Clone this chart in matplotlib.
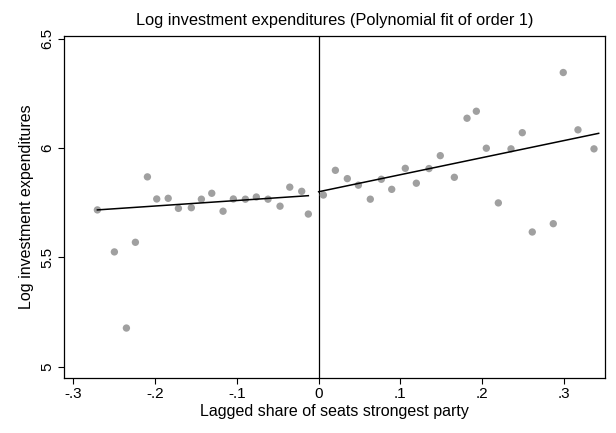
import matplotlib
matplotlib.use("Agg")
import matplotlib.pyplot as plt

plt.rcParams["font.family"] = ["Liberation Sans", "DejaVu Sans"]

# binned means, left of the cutoff
left_x = [-0.2706, -0.2498, -0.2351, -0.2241, -0.2094, -0.198, -0.184, -0.1715,
          -0.1557, -0.1434, -0.1307, -0.1169, -0.1043, -0.0896, -0.0762,
          -0.0619, -0.0472, -0.0353, -0.0207, -0.0126]
left_y = [5.717, 5.525, 5.177, 5.569, 5.868, 5.767, 5.770, 5.724,
          5.727, 5.766, 5.793, 5.711, 5.767, 5.766, 5.776,
          5.766, 5.734, 5.821, 5.802, 5.698]

# binned means, right of the cutoff
right_x = [0.0058, 0.0205, 0.0351, 0.0486, 0.0632, 0.0767, 0.0894, 0.106,
           0.1195, 0.135, 0.1488, 0.166, 0.1815, 0.1929, 0.2051, 0.2198,
           0.2353, 0.2491, 0.2613, 0.287, 0.2992, 0.3172, 0.3368]
right_y = [5.785, 5.898, 5.860, 5.830, 5.766, 5.857, 5.811, 5.907,
           5.839, 5.906, 5.965, 5.866, 6.136, 6.168, 5.999, 5.749,
           5.996, 6.070, 5.616, 5.654, 6.345, 6.083, 5.996]

# linear fits on each side
left_fit_x = [-0.2706, -0.0126]
left_fit_y = [5.717, 5.782]
right_fit_x = [0.0, 0.3425]
right_fit_y = [5.800, 6.067]

xticks = [-0.3, -0.2, -0.1, 0, 0.1, 0.2, 0.3]
xtick_labels = ["-.3", "-.2", "-.1", "0", ".1", ".2", ".3"]
yticks = [5, 5.5, 6, 6.5]
ytick_labels = ["5", "5.5", "6", "6.5"]

fig = plt.figure(figsize=(6.16, 4.33), dpi=100)
ax = fig.add_axes([0.1034, 0.1277, 0.8792, 0.7892])

dot = "#a0a0a0"
ax.scatter(left_x, left_y, s=28, color=dot, edgecolors="none", zorder=2)
ax.scatter(right_x, right_y, s=28, color=dot, edgecolors="none", zorder=2)
ax.plot(left_fit_x, left_fit_y, color="black", lw=1.1, zorder=3)
ax.plot(right_fit_x, right_fit_y, color="black", lw=1.1, zorder=3)
ax.axvline(0, color="black", lw=0.9, zorder=1)

ax.set_xlim(-0.3118, 0.3506)
ax.set_ylim(4.95, 6.512)
ax.set_xticks(xticks)
ax.set_xticklabels(xtick_labels)
ax.set_yticks(yticks)
ax.set_yticklabels(ytick_labels, rotation=90, va="center")
ax.tick_params(direction="out", length=4.5, width=0.8, labelsize=11)
ax.tick_params(axis="x", pad=2)
ax.tick_params(axis="y", pad=2)

for sp in ax.spines.values():
    sp.set_linewidth(0.9)

ax.set_xlabel("Lagged share of seats strongest party", fontsize=11.5, labelpad=2)
ax.set_ylabel("Log investment expenditures", fontsize=11.5, labelpad=5)
ax.set_title("Log investment expenditures (Polynomial fit of order 1)", fontsize=11.8, pad=8)

fig.savefig("out.png", dpi=100)
